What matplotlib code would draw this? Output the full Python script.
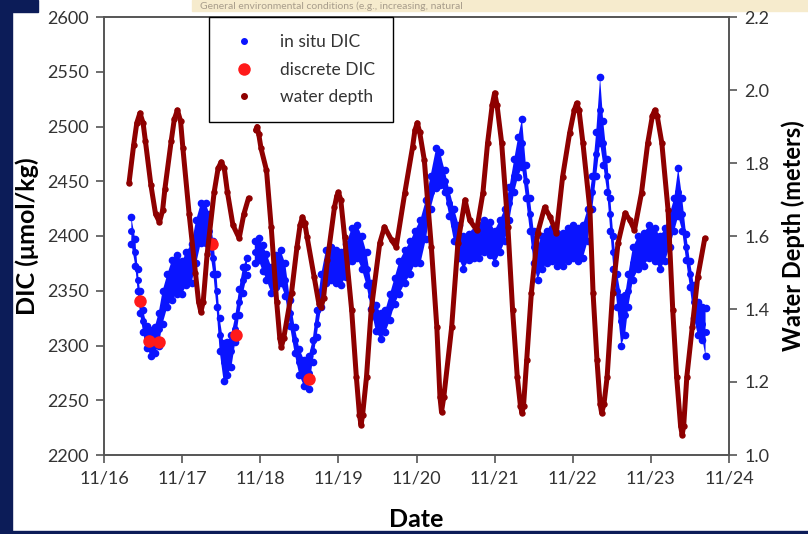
import numpy as np
import matplotlib
matplotlib.use('Agg')
import matplotlib.pyplot as plt
from matplotlib.lines import Line2D
from matplotlib.patches import Rectangle

plt.rcParams['font.family'] = ['Lato', 'DejaVu Sans']

# in situ DIC: time (day of Nov), band centre and half-width (umol/kg)
dic_t = [16.35, 16.40, 16.43, 16.46, 16.50, 16.55, 16.60, 16.65, 16.70, 16.75, 16.81, 16.87, 16.93,
         17.00, 17.05, 17.12, 17.18, 17.24, 17.30, 17.35, 17.40, 17.44, 17.48, 17.53, 17.58, 17.63,
         17.68, 17.73, 17.78, 17.83, 17.88, 17.93, 17.98, 18.03, 18.08, 18.14, 18.20, 18.26, 18.32,
         18.38, 18.44, 18.50, 18.56, 18.62, 18.67, 18.72, 18.78, 18.84, 18.90, 18.97, 19.03, 19.10,
         19.17, 19.24, 19.30, 19.36, 19.42, 19.48, 19.54, 19.60, 19.66, 19.72, 19.78, 19.85, 19.92,
         19.98, 20.05, 20.12, 20.18, 20.25, 20.30, 20.36, 20.42, 20.48, 20.54, 20.60, 20.67, 20.74,
         20.80, 20.87, 20.94, 21.00, 21.07, 21.13, 21.19, 21.25, 21.30, 21.35, 21.40, 21.45, 21.50,
         21.55, 21.60, 21.67, 21.74, 21.80, 21.87, 21.94, 22.00, 22.07, 22.13, 22.19, 22.25, 22.30,
         22.35, 22.39, 22.44, 22.48, 22.52, 22.57, 22.62, 22.67, 22.71, 22.77, 22.84, 22.91, 22.98,
         23.05, 23.12, 23.18, 23.24, 23.30, 23.35, 23.40, 23.45, 23.50, 23.55, 23.60, 23.66, 23.70]
dic_mid = [2405, 2385, 2360, 2340, 2322, 2308, 2302, 2305, 2315, 2335, 2350, 2360, 2365,
           2362, 2370, 2375, 2395, 2412, 2412, 2405, 2380, 2350, 2310, 2285, 2288, 2295,
           2315, 2340, 2360, 2372, np.nan, 2385, 2388, 2380, 2372, 2360, 2368, 2372, 2360,
           2330, 2305, 2285, 2275, 2275, 2295, 2320, 2350, 2372, 2375, 2372, 2370, 2378,
           2392, 2395, 2385, 2370, 2345, 2325, 2318, 2322, 2335, 2350, 2362, 2372, 2380,
           2390, 2395, 2415, 2440, 2462, 2462, 2450, 2430, 2410, 2395, 2385, 2390, 2392,
           2395, 2400, 2398, 2390, 2400, 2410, 2430, 2455, 2472, 2485, 2450, 2420, 2390,
           2375, 2385, 2390, 2392, 2388, 2388, 2392, 2395, 2392, 2395, 2410, 2440, 2475,
           2515, 2485, 2455, 2420, 2385, 2350, 2322, 2328, 2350, 2375, 2385, 2388, 2395,
           2392, 2385, 2392, 2405, 2420, 2440, 2420, 2390, 2365, 2340, 2325, 2320, 2312]
dic_hw = [12, 12, 10, 10, 10, 10, 12, 12, 15, 15, 15, 18, 18,
          15, 15, 18, 20, 18, 18, 15, 15, 15, 15, 17, 15, 15,
          12, 12, 12, 8, np.nan, 10, 10, 12, 12, 12, 15, 15, 15,
          12, 12, 12, 12, 15, 10, 12, 15, 15, 15, 15, 15, 15,
          15, 15, 15, 15, 12, 12, 12, 10, 12, 12, 15, 15, 15,
          15, 20, 18, 15, 18, 15, 10, 12, 15, 15, 15, 12, 12,
          15, 15, 15, 15, 15, 15, 15, 15, 18, 22, 15, 15, 15,
          15, 15, 15, 15, 15, 15, 15, 15, 15, 15, 15, 15, 20,
          30, 20, 15, 15, 15, 15, 22, 18, 15, 15, 15, 15, 15,
          15, 15, 15, 15, 15, 22, 15, 12, 12, 15, 15, 15, 22]

# discrete DIC samples
disc_t = [16.46, 16.58, 16.71, 17.38, 17.69, 18.63]
disc_dic = [2341, 2304, 2303, 2393, 2310, 2269]

# water depth (meters)
depth_t = [16.32, 16.38, 16.42, 16.46, 16.50, 16.53, 16.60, 16.66, 16.71, 16.75, 16.78, 16.86, 16.90,
           16.94, 16.98, 17.01, 17.09, 17.17, 17.21, 17.24, 17.27, 17.32, 17.41, 17.46, 17.50,
           17.54, 17.58, 17.65, 17.73, 17.79, 17.85, 17.90, 17.94, 17.96, 17.98,
           18.01, 18.08, 18.14, 18.21, 18.25, 18.27, 18.30, 18.40, 18.47, 18.51, 18.54, 18.57,
           18.60, 18.69, 18.75, 18.78, 18.81, 18.86, 18.95, 18.98, 19.00, 19.03, 19.08, 19.17,
           19.23, 19.27, 19.29, 19.31, 19.36, 19.42, 19.53, 19.59, 19.68, 19.74, 19.85, 19.95,
           19.98, 20.01, 20.04, 20.10, 20.19, 20.26, 20.30, 20.32, 20.35, 20.45, 20.53, 20.62,
           20.68, 20.77, 20.85, 20.91, 20.97, 21.00, 21.03, 21.09, 21.17, 21.23, 21.29, 21.33,
           21.35, 21.37, 21.41, 21.47, 21.55, 21.64, 21.71, 21.79, 21.87, 21.96, 22.02, 22.05,
           22.08, 22.13, 22.22, 22.26, 22.31, 22.35, 22.37, 22.40, 22.44, 22.51, 22.58, 22.67,
           22.73, 22.79, 22.88, 22.96, 23.02, 23.05, 23.08, 23.14, 23.22, 23.28, 23.33, 23.38,
           23.40, 23.42, 23.46, 23.53, 23.60, 23.69]
depth = [1.745, 1.85, 1.91, 1.937, 1.91, 1.86, 1.74, 1.66, 1.638, 1.67, 1.73, 1.86, 1.92,
         1.945, 1.915, 1.84, 1.66, 1.50, 1.42, 1.392, 1.42, 1.55, 1.72, 1.785, 1.803,
         1.785, 1.72, 1.63, 1.594, 1.66, 1.704, np.nan, 1.89, 1.90, 1.88,
         1.84, 1.78, 1.625, 1.42, 1.32, 1.296, 1.32, 1.444, 1.57, 1.63, 1.652, 1.635,
         1.597, 1.488, 1.415, 1.405, 1.43, 1.534, 1.679, 1.71, 1.72, 1.70, 1.597, 1.397,
         1.214, 1.11, 1.082, 1.11, 1.214, 1.397, 1.581, 1.625, 1.589, 1.57, 1.718, 1.844,
         1.89, 1.91, 1.885, 1.808, 1.57, 1.351, 1.16, 1.118, 1.16, 1.35, 1.58, 1.699,
         1.644, 1.616, 1.718, 1.855, 1.96, 1.992, 1.96, 1.855, 1.625, 1.397, 1.214, 1.135,
         1.115, 1.135, 1.26, 1.444, 1.608, 1.679, 1.652, 1.608, 1.762, 1.882, 1.945, 1.964,
         1.945, 1.855, 1.671, 1.444, 1.26, 1.14, 1.115, 1.14, 1.214, 1.444, 1.581, 1.663,
         1.644, 1.616, 1.718, 1.855, 1.93, 1.945, 1.93, 1.855, 1.671, 1.397, 1.214, 1.08,
         1.055, 1.08, 1.214, 1.351, 1.488, 1.594]

date_ticks = [16, 17, 18, 19, 20, 21, 22, 23, 24]
date_labels = ['11/16', '11/17', '11/18', '11/19', '11/20', '11/21', '11/22', '11/23', '11/24']

BLUE = '#0a14ff'
RED = '#ff1a1a'
DARKRED = '#8e0000'
NAVY = '#0c1c58'
TXT = '#333333'

fig = plt.figure(figsize=(8.08, 5.34), dpi=100)
fig.patch.set_facecolor('white')

# slide background bits around the pasted chart
fig.add_artist(Rectangle((0, 0), 12 / 808, 1, transform=fig.transFigure, color=NAVY, zorder=0))
fig.add_artist(Rectangle((0, 1 - 12 / 534), 38 / 808, 12 / 534, transform=fig.transFigure, color=NAVY, zorder=0))
fig.add_artist(Rectangle((0, 0), 1, 3 / 534, transform=fig.transFigure, color=NAVY, zorder=0))
fig.add_artist(Rectangle((192 / 808, 1 - 11 / 534), 616 / 808, 11 / 534, transform=fig.transFigure,
                         color='#f6ebcd', zorder=0))
fig.text(200 / 808, 1 - 6 / 534, 'General environmental conditions (e.g., increasing, natural',
         fontsize=7.5, color='#9a8f80', va='center', ha='left', alpha=0.85)

ax = fig.add_axes([104 / 808, 1 - 455 / 534, 625 / 808, 438 / 534])
ax2 = ax.twinx()

t = np.array(dic_t)
mid = np.array(dic_mid)
hw = np.array(dic_hw)
ax.fill_between(t, mid - hw, mid + hw, color=BLUE, lw=0, zorder=2)
ax.plot(t, mid + hw, 'o', color=BLUE, ms=4.5, zorder=2)
ax.plot(t, mid - hw, 'o', color=BLUE, ms=4.5, zorder=2)
ax.plot(t, mid, 'o', color=BLUE, ms=4, zorder=2)
ax.plot(disc_t, disc_dic, 'o', color=RED, ms=9, mec='none', zorder=3)

ax2.plot(depth_t, depth, '-', color=DARKRED, lw=3.6, solid_capstyle='round',
         solid_joinstyle='round', zorder=2)
ax2.plot(depth_t, depth, 'o', color=DARKRED, ms=3.6, zorder=2)

ax.set_xlim(16, 24)
ax.set_ylim(2200, 2600)
ax2.set_ylim(1.0, 2.2)
ax.set_xticks(date_ticks)
ax.set_xticklabels(date_labels)
ax.set_yticks(np.arange(2200, 2601, 50))
ax2.set_yticks(np.arange(1.0, 2.21, 0.2))
ax2.set_yticklabels([f'{v:.1f}' for v in np.arange(1.0, 2.21, 0.2)])

for a in (ax, ax2):
    a.tick_params(direction='out', length=6, width=1.2, color='#555555', labelsize=13,
                  labelcolor=TXT, pad=5)
    for s in a.spines.values():
        s.set_color('#555555')
        s.set_linewidth(1.2)

ax.set_ylabel('DIC (\u03bcmol/kg)', fontsize=18, fontweight='bold')
ax.set_xlabel('Date', fontsize=18, fontweight='bold')
ax2.set_ylabel('Water Depth (meters)', fontsize=17, fontweight='bold', labelpad=9)
ax.yaxis.set_label_coords(-0.104, 0.5)
ax.xaxis.set_label_coords(0.5, -0.122)

handles = [Line2D([], [], marker='o', ls='', color=BLUE, ms=4),
           Line2D([], [], marker='o', ls='', color=RED, ms=9, mec='none'),
           Line2D([], [], marker='o', ls='', color=DARKRED, ms=4)]
leg = ax2.legend(handles, ['in situ DIC', 'discrete DIC', 'water depth'], loc='upper left',
                 bbox_to_anchor=(0.168, 1.0), borderaxespad=0, fontsize=12.5, frameon=True,
                 fancybox=False, edgecolor='black', framealpha=1, borderpad=1.0,
                 labelspacing=0.65, handlelength=2.0, handletextpad=1.1)
leg.get_frame().set_linewidth(1.0)
for txt in leg.get_texts():
    txt.set_color(TXT)

fig.savefig('out.png', dpi=100)
